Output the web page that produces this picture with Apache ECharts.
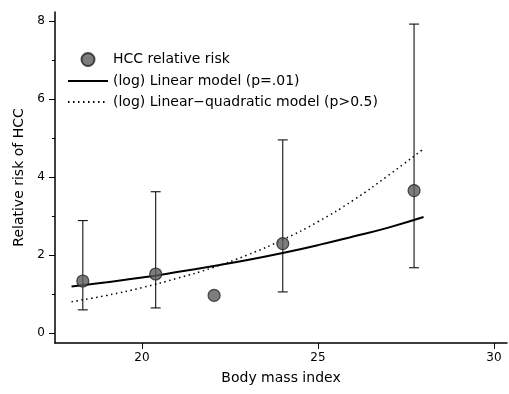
<!DOCTYPE html>
<html>
<head>
<meta charset="utf-8">
<script src="https://cdn.jsdelivr.net/npm/echarts@6/dist/echarts.min.js"></script>
<style>
  html, body { margin: 0; padding: 0; background: #fff; }
  #chart { width: 509px; height: 394px; }
</style>
</head>
<body>
<div id="chart"></div>
<script>
// observed points (BMI, relative risk) with 95% CI
const bmi = [18.32, 20.39, 22.05, 24.0, 27.73]
const risk = [1.33, 1.51, 0.96, 2.29, 3.65]
const ciLow = [0.59, 0.64, null, 1.05, 1.67]
const ciHigh = [2.88, 3.62, null, 4.95, 7.92]

// fitted curves
const curveX = [18, 19, 20, 21, 22, 23, 24, 25, 26, 27, 28]
const linearFit = [1.19, 1.30, 1.42, 1.56, 1.71, 1.87, 2.05, 2.25, 2.47, 2.70, 2.97]
const quadFit = [0.80, 0.96, 1.16, 1.40, 1.67, 2.00, 2.39, 2.85, 3.40, 4.04, 4.72]

const xTicks = [20, 25, 30]
const yTicks = [0, 2, 4, 6, 8]
const yMinorTicks = [1, 3, 5, 7]

const names = ['HCC relative risk', '(log) Linear model (p=.01)', '(log) Linear\u2212quadratic model (p>0.5)']

const chart = echarts.init(document.getElementById('chart'))

const tickFont = { color: '#000', fontSize: 12, fontFamily: 'DejaVu Sans' }
const titleFont = { color: '#000', fontSize: 14, fontFamily: 'DejaVu Sans' }

const option = {
  animation: false,
  backgroundColor: '#fff',
  grid: { left: 55, top: 12, right: 2, bottom: 51 },
  legend: {
    data: [
      { name: names[0] },
      { name: names[1], itemStyle: { opacity: 0 } },
      { name: names[2], itemStyle: { opacity: 0 } },
    ],
    orient: 'vertical',
    left: 62,
    top: 47,
    itemWidth: 40,
    itemHeight: 13,
    itemGap: 7,
    textStyle: { color: '#000', fontSize: 14, fontFamily: 'DejaVu Sans' },
  },
  xAxis: {
    type: 'value',
    min: 17.53,
    max: 30.37,
    name: 'Body mass index',
    nameLocation: 'middle',
    nameGap: 28,
    nameTextStyle: titleFont,
    axisLine: { onZero: false, lineStyle: { color: '#000', width: 1.5 } },
    axisTick: { customValues: xTicks, length: 6, lineStyle: { color: '#000' } },
    axisLabel: { customValues: xTicks, margin: 9, ...tickFont },
    splitLine: { show: false },
  },
  yAxis: [
    {
      type: 'value',
      min: -0.26,
      max: 8.23,
      name: 'Relative risk of HCC',
      nameLocation: 'middle',
      nameGap: 26,
      nameTextStyle: titleFont,
      axisLine: { show: true, onZero: false, lineStyle: { color: '#000', width: 1.5 } },
      axisTick: { customValues: yTicks, length: 6, lineStyle: { color: '#000' } },
      axisLabel: { customValues: yTicks, margin: 10, ...tickFont },
      splitLine: { show: false },
    },
    {
      type: 'value',
      min: -0.26,
      max: 8.23,
      position: 'left',
      axisLine: { show: false, onZero: false },
      axisTick: { customValues: yMinorTicks, length: 3, lineStyle: { color: '#000' } },
      axisLabel: { show: false },
      splitLine: { show: false },
    },
  ],
  series: [
    {
      name: 'ci',
      type: 'custom',
      silent: true,
      z: 1,
      data: bmi.map((x, i) => [x, ciLow[i], ciHigh[i]]).filter(d => d[1] != null),
      renderItem: (params, api) => {
        const lo = api.coord([api.value(0), api.value(1)])
        const hi = api.coord([api.value(0), api.value(2)])
        const cap = 5
        const style = { stroke: '#111', lineWidth: 1.1 }
        return {
          type: 'group',
          children: [
            { type: 'line', shape: { x1: lo[0], y1: lo[1], x2: hi[0], y2: hi[1] }, style },
            { type: 'line', shape: { x1: lo[0] - cap, y1: lo[1], x2: lo[0] + cap, y2: lo[1] }, style },
            { type: 'line', shape: { x1: hi[0] - cap, y1: hi[1], x2: hi[0] + cap, y2: hi[1] }, style },
          ],
        }
      },
    },
    {
      name: names[1],
      type: 'line',
      smooth: true,
      symbol: 'none',
      z: 2,
      data: curveX.map((x, i) => [x, linearFit[i]]),
      lineStyle: { color: '#000', width: 2 },
      itemStyle: { color: '#000' },
    },
    {
      name: names[2],
      type: 'line',
      smooth: true,
      symbol: 'none',
      z: 2,
      data: curveX.map((x, i) => [x, quadFit[i]]),
      lineStyle: { color: '#000', width: 1.5, type: [1.5, 3.5] },
      itemStyle: { color: '#000' },
    },
    {
      name: names[0],
      type: 'scatter',
      symbol: 'circle',
      symbolSize: 12,
      z: 3,
      data: bmi.map((x, i) => [x, risk[i]]),
      itemStyle: { color: '#5c5c5c', borderColor: '#222', borderWidth: 1.2 },
    },
  ],
}

chart.setOption(option)
</script>
</body>
</html>
